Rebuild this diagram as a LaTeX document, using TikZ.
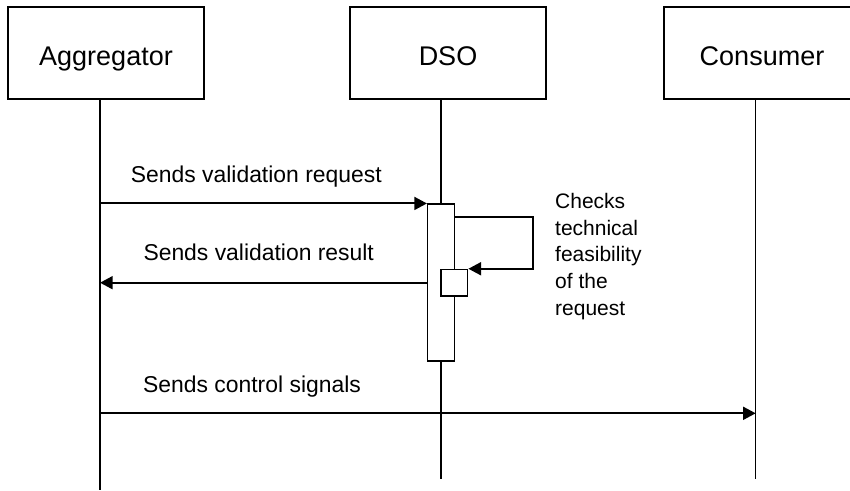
\documentclass[tikz,border=0pt]{standalone}
\usepackage{fontspec}
\setmainfont{Liberation Sans}
\usetikzlibrary{arrows.meta,calc}
\begin{document}
\begin{tikzpicture}[x=1pt,y=-1pt,
  actor/.style={draw,line width=1.5pt,fill=white,minimum width=196pt,minimum height=92pt,inner sep=0pt,text height=24pt,text depth=0pt,font=\fontsize{27}{32}\selectfont},
  life/.style={line width=1.5pt},
  msg/.style={line width=2pt,-{Triangle[length=12.7pt,width=13pt]}},
  actbox/.style={draw,line width=1.5pt,fill=white,inner sep=0pt},
  msglabel/.style={anchor=base west,inner sep=0pt,font=\fontsize{22.9}{27}\selectfont},
  note/.style={anchor=north west,inner sep=0pt,align=left,font=\fontsize{21}{26.7}\selectfont}]
\useasboundingbox (0,0) rectangle (850,490);
\clip (0,0) rectangle (850,490);
% actors
\node[actor] (agg) at (106,53) {Aggregator};
\node[actor] (dso) at (448,53) {DSO};
\node[actor] (con) at (762,53) {Consumer};
% lifeline ends
\coordinate (aggL) at (100,490);
\coordinate (dsoL) at (441,479);
\coordinate (conL) at (755.7,479);
\draw[life] (agg.south -| aggL) -- (aggL);
\draw[life] (dso.south -| dsoL) -- (dsoL);
\draw[life] (con.south -| conL) -- (conL);
% activation bars
\node[actbox,minimum width=26.6pt,minimum height=157pt] (act) at (441,282.7) {};
\node[actbox,minimum width=26.7pt,minimum height=26.4pt] (sub) at (454.3,282.7) {};
% messages
\draw[msg] (aggL |- act.north) -- (act.north west);
\node[msglabel] (l1) at (130.7,182.7) {Sends validation request};
\draw[msg] ($(act.north east)+(0,13.7)$) -- ++(78.4,0) |- (sub.north east);
\node[note] (l2) at (555,193) {Checks\\technical\\feasibility\\of the\\request};
\draw[msg] (act.west) -- (act.west -| aggL);
\node[msglabel] (l3) at (143.3,260) {Sends validation result};
\coordinate (ctl) at (100,413.3);
\draw[msg] (ctl) -- (ctl -| conL);
\node[msglabel] (l4) at (143,392) {Sends control signals};
\end{tikzpicture}
\end{document}
